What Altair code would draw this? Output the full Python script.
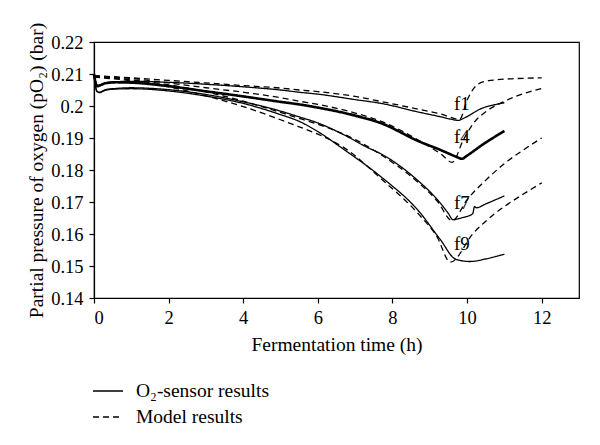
import altair as alt
import pandas as pd

# ---- data ----
f1_sensor_x = [0, 0.08, 0.15, 0.3, 0.6, 1, 2, 3, 4, 5, 5.5, 6, 7, 7.7, 8.7, 9.3, 9.6, 9.75, 9.9, 10.0, 10.4, 10.7, 11.0]
f1_sensor_y = [0.2100, 0.2066, 0.2064, 0.2072, 0.2076, 0.2077, 0.2074, 0.2068, 0.2060, 0.2050, 0.2043, 0.2037, 0.2020, 0.2008, 0.1981, 0.1966, 0.1958, 0.1955, 0.1961, 0.1967, 0.1993, 0.2003, 0.2010]
f1_model_x = [0, 1, 2, 3, 4, 5, 5.5, 6, 7, 7.7, 8.7, 9.3, 9.8, 10.0, 10.2, 10.45, 10.8, 11.2, 12]
f1_model_y = [0.2095, 0.2088, 0.2080, 0.2072, 0.2064, 0.2056, 0.2050, 0.2045, 0.2030, 0.2014, 0.1990, 0.1975, 0.1958, 0.2018, 0.2058, 0.2076, 0.2082, 0.2085, 0.2088]

f4_sensor_x = [0, 0.08, 0.15, 0.3, 0.6, 1, 2, 3, 4, 5, 5.5, 6, 7, 7.7, 8.7, 9.3, 9.7, 9.86, 10.0, 10.4, 11.0]
f4_sensor_y = [0.2100, 0.2062, 0.2064, 0.2071, 0.2074, 0.2073, 0.2062, 0.2046, 0.2030, 0.2013, 0.2005, 0.1995, 0.1970, 0.1946, 0.1890, 0.1862, 0.1842, 0.1835, 0.1845, 0.1878, 0.1922]
f4_model_x = [0, 1, 2, 3, 4, 5, 5.5, 6, 7, 7.7, 8.7, 9.3, 9.6, 9.9, 10.17, 10.5, 10.97, 11.5, 12]
f4_model_y = [0.2093, 0.2086, 0.2072, 0.2057, 0.2043, 0.2026, 0.2015, 0.2005, 0.1978, 0.1952, 0.1893, 0.1850, 0.1824, 0.1894, 0.1946, 0.1982, 0.2013, 0.2038, 0.2055]

f7_sensor_x = [0, 0.08, 0.15, 0.3, 0.6, 1, 2, 3, 4, 5, 5.5, 6, 6.7, 7.3, 7.7, 8.7, 9.2, 9.5, 9.62, 9.9, 10.15, 10.2, 10.25, 10.5, 11.0]
f7_sensor_y = [0.2100, 0.2046, 0.2043, 0.2051, 0.2055, 0.2057, 0.2051, 0.2036, 0.2013, 0.1984, 0.1966, 0.1947, 0.1910, 0.1872, 0.1850, 0.1765, 0.1708, 0.1664, 0.1645, 0.1652, 0.1663, 0.1686, 0.1682, 0.1694, 0.1719]
f7_model_x = [0, 1, 2, 3, 4, 5, 5.5, 6, 7, 7.7, 8.7, 9.2, 9.6, 10.0, 10.5, 11.0, 11.5, 12]
f7_model_y = [0.2092, 0.2082, 0.2066, 0.2044, 0.2015, 0.1980, 0.1961, 0.1943, 0.1895, 0.1847, 0.1760, 0.1703, 0.1642, 0.1707, 0.1768, 0.1820, 0.1862, 0.1900]

f9_sensor_x = [0, 0.08, 0.15, 0.3, 0.6, 1, 2, 3, 4, 5, 5.5, 6, 6.7, 7.7, 8.7, 9.28, 9.7, 10.08, 10.5, 11.0]
f9_sensor_y = [0.2100, 0.2045, 0.2042, 0.2049, 0.2053, 0.2054, 0.2047, 0.2031, 0.2008, 0.1973, 0.1952, 0.1920, 0.1864, 0.1778, 0.1672, 0.1583, 0.1521, 0.1514, 0.1522, 0.1537]
f9_model_x = [0, 1, 2, 3, 4, 5, 5.5, 6, 6.7, 7.7, 8.7, 9.2, 9.55, 10.17, 10.5, 11.0, 11.5, 12]
f9_model_y = [0.2090, 0.2079, 0.2060, 0.2032, 0.1998, 0.1957, 0.1935, 0.1912, 0.1870, 0.1772, 0.1662, 0.1590, 0.1512, 0.1603, 0.1640, 0.1686, 0.1724, 0.1760]

label_text = ["f1", "f4", "f7", "f9"]
label_x = [9.65, 9.65, 9.65, 9.65]
label_y = [0.1987, 0.1885, 0.1678, 0.1551]

x_ticks = [0, 2, 4, 6, 8, 10, 12]
y_ticks = [0.14, 0.15, 0.16, 0.17, 0.18, 0.19, 0.20, 0.21, 0.22]

SENSOR = "O\u2082-sensor results"
MODEL = "Model results"

series = [
    ("f1", SENSOR, f1_sensor_x, f1_sensor_y),
    ("f1", MODEL, f1_model_x, f1_model_y),
    ("f4", SENSOR, f4_sensor_x, f4_sensor_y),
    ("f4", MODEL, f4_model_x, f4_model_y),
    ("f7", SENSOR, f7_sensor_x, f7_sensor_y),
    ("f7", MODEL, f7_model_x, f7_model_y),
    ("f9", SENSOR, f9_sensor_x, f9_sensor_y),
    ("f9", MODEL, f9_model_x, f9_model_y),
]
rows = []
for name, kind, xs, ys in series:
    for i, (xv, yv) in enumerate(zip(xs, ys)):
        rows.append({"t": xv, "p": yv, "run": name, "kind": kind, "key": name + kind, "i": i})
df = pd.DataFrame(rows)
labels = pd.DataFrame({"t": label_x, "p": label_y, "txt": label_text})

FONT = "Liberation Serif"

xscale = alt.Scale(domain=[0, 13], nice=False, zero=False)
yscale = alt.Scale(domain=[0.14, 0.22], nice=False, zero=False)

x_axis = alt.Axis(values=x_ticks, title="Fermentation time (h)", grid=False,
                  tickSize=5, labelPadding=5, titlePadding=9, labelOverlap=False)
y_axis = alt.Axis(values=y_ticks, grid=False,
                  labelExpr="format(datum.value, '.2~f')",
                  title="Partial pressure of oxygen (pO\u2082) (bar)",
                  tickSize=5, labelPadding=6, titlePadding=4,
                  labelOverlap=False, labelSeparation=0, labelBound=False)

lines = alt.Chart(df).mark_line(interpolate="monotone", color="black").encode(
    x=alt.X("t:Q", scale=xscale, axis=x_axis),
    y=alt.Y("p:Q", scale=yscale, axis=y_axis),
    strokeDash=alt.StrokeDash("kind:N",
        scale=alt.Scale(domain=[SENSOR, MODEL], range=[[1, 0], [6, 4]]),
        legend=alt.Legend(title=None, orient="none", legendX=-2, legendY=333,
                          symbolType="stroke", symbolSize=900, symbolStrokeColor="black",
                          symbolStrokeWidth=1.3, labelFont=FONT, labelFontSize=19.5,
                          labelColor="black", labelOffset=12, rowPadding=-7, padding=0,
                          symbolDash=[7, 4])),
    strokeWidth=alt.condition(f"datum.run === 'f4' && datum.kind === '{SENSOR}'",
                              alt.value(2.6), alt.value(1.3)),
    detail="key:N",
    order="i:Q",
)

text = alt.Chart(labels).mark_text(align="left", baseline="alphabetic", font=FONT,
                                   fontSize=19, color="black").encode(
    x=alt.X("t:Q", scale=xscale, axis=x_axis),
    y=alt.Y("p:Q", scale=yscale, axis=y_axis),
    text="txt:N",
)

chart = alt.layer(lines, text).properties(
    width=485, height=256,
    autosize=alt.AutoSizeParams(type="none"),
    padding={"left": 86, "top": 34, "right": 13, "bottom": 140},
).configure_view(
    stroke="black", strokeWidth=1.2
).configure_axis(
    domainColor="black", domainWidth=1.2, tickColor="black", tickWidth=1.2,
    labelFont=FONT, labelFontSize=18.5, labelColor="black", labelOverlap=False,
    titleFont=FONT, titleFontSize=19.5, titleFontWeight="normal", titleColor="black",
)

chart.save("out.html", embed_options={"renderer": "svg", "actions": False})
